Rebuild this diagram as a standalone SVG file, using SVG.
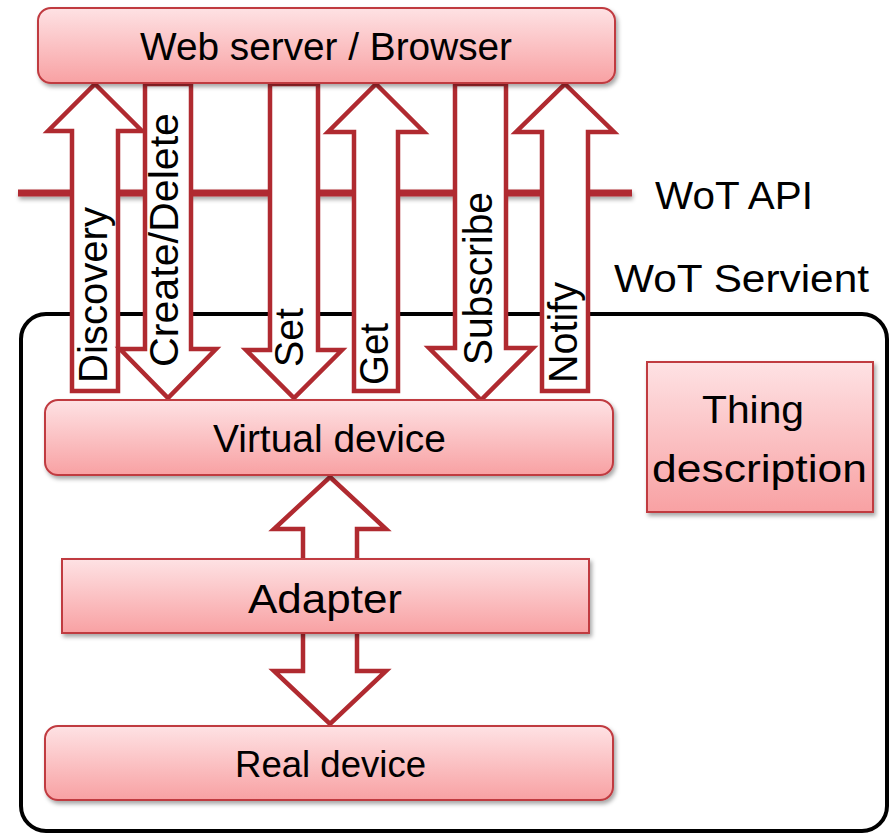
<svg xmlns="http://www.w3.org/2000/svg" width="889" height="835" viewBox="0 0 889 835">
  <defs>
    <linearGradient id="boxFill" x1="0" y1="0" x2="0" y2="1">
      <stop offset="0" stop-color="#fee2e4"/>
      <stop offset="1" stop-color="#f8a1a3"/>
    </linearGradient>
    <filter id="shadow" x="-10%" y="-20%" width="120%" height="160%">
      <feDropShadow dx="2" dy="3" stdDeviation="2" flood-color="#000" flood-opacity="0.35"/>
    </filter>
    <filter id="lineShadow" x="-5%" y="-100%" width="110%" height="300%">
      <feDropShadow dx="1" dy="3" stdDeviation="2" flood-color="#000" flood-opacity="0.35"/>
    </filter>
    <style>
      .box { fill: url(#boxFill); stroke: #c03a40; stroke-width: 2; filter: url(#shadow); }
      .arrow { fill: #fff; stroke: #b02a30; stroke-width: 4.5; stroke-linejoin: miter; }
      .label { font-family: "Liberation Sans", Arial, sans-serif; fill: #000; }
      .vlabel { font-family: "Liberation Sans", Arial, sans-serif; font-size: 40px; fill: #000; }
    </style>
  </defs>

  <!-- servient boundary and API line -->
  <g id="servient">
    <rect x="21" y="314" width="866" height="517" rx="25" fill="none" stroke="#000" stroke-width="4"/>
    <text class="label" x="614" y="292" font-size="38" textLength="255" lengthAdjust="spacingAndGlyphs">WoT Servient</text>
  </g>
  <g id="wot-api">
    <rect x="18" y="189.5" width="614" height="7" fill="#b02a30" filter="url(#lineShadow)"/>
    <text class="label" x="655" y="209" font-size="38" textLength="158" lengthAdjust="spacingAndGlyphs">WoT API</text>
  </g>

  <!-- block arrows between browser and virtual device -->
  <g id="connectors">
    <path class="arrow" d="M95,84 L142,131 L118,131 L118,391 L72,391 L72,131 L48,131 Z"/>
    <path class="arrow" d="M145,84 L191,84 L191,349 L216,349 L168,398 L120,349 L145,349 Z"/>
    <path class="arrow" d="M270,84 L318,84 L318,350 L342,350 L294,398 L246,350 L270,350 Z"/>
    <path class="arrow" d="M376,84 L424,132 L398,132 L398,391 L354,391 L354,132 L328,132 Z"/>
    <path class="arrow" d="M455,84 L506,84 L506,348 L533,348 L481,400 L429,348 L455,348 Z"/>
    <path class="arrow" d="M565,84 L614,132 L588,132 L588,391 L542,391 L542,132 L516,132 Z"/>
    <path class="arrow" d="M330,477 L386,529 L357,529 L357,671 L386,671 L330,724 L274,671 L303,671 L303,529 L274,529 Z"/>

    <text class="vlabel" transform="translate(107,383) rotate(-90)" textLength="176" lengthAdjust="spacingAndGlyphs">Discovery</text>
    <text class="vlabel" transform="translate(178,367) rotate(-90)" textLength="254" lengthAdjust="spacingAndGlyphs">Create/Delete</text>
    <text class="vlabel" transform="translate(303,367) rotate(-90)" textLength="59" lengthAdjust="spacingAndGlyphs">Set</text>
    <text class="vlabel" transform="translate(388,385) rotate(-90)" textLength="62" lengthAdjust="spacingAndGlyphs">Get</text>
    <text class="vlabel" transform="translate(492,365) rotate(-90)" textLength="173" lengthAdjust="spacingAndGlyphs">Subscribe</text>
    <text class="vlabel" transform="translate(577,383) rotate(-90)" textLength="101" lengthAdjust="spacingAndGlyphs">Notify</text>
  </g>

  <g id="browser">
    <rect class="box" x="38" y="8" width="577" height="75" rx="13"/>
    <text class="label" x="140" y="60" font-size="38" textLength="372" lengthAdjust="spacingAndGlyphs">Web server / Browser</text>
  </g>

  <g id="virtual-device">
    <rect class="box" x="45" y="400" width="568" height="75" rx="13"/>
    <text class="label" x="213" y="452" font-size="38" textLength="233" lengthAdjust="spacingAndGlyphs">Virtual device</text>
  </g>

  <g id="adapter">
    <rect class="box" x="62" y="559" width="527" height="74"/>
    <text class="label" x="248" y="613" font-size="40" textLength="154" lengthAdjust="spacingAndGlyphs">Adapter</text>
  </g>

  <g id="real-device">
    <rect class="box" x="45" y="726" width="568" height="74" rx="13"/>
    <text class="label" x="235" y="777" font-size="36" textLength="191" lengthAdjust="spacingAndGlyphs">Real device</text>
  </g>

  <g id="thing-description">
    <rect class="box" x="647" y="362" width="226" height="150"/>
    <text class="label" x="702" y="423" font-size="39" textLength="102" lengthAdjust="spacingAndGlyphs">Thing</text>
    <text class="label" x="652" y="482" font-size="39" textLength="215" lengthAdjust="spacingAndGlyphs">description</text>
  </g>
</svg>
